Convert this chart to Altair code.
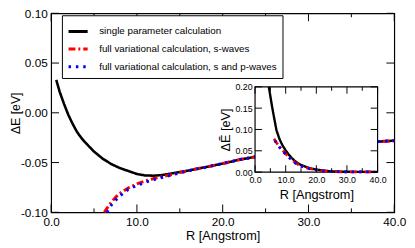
import altair as alt
import pandas as pd

SERIES = ["single parameter calculation",
          "full variational calculation, s-waves",
          "full variational calculation, s and p-waves"]
COLORS = ["#000000", "#ff0000", "#0000ff"]
DASHES = [[1, 0], [7, 3, 2, 3], [2.5, 5]]

# ---------------- main panel data ----------------
R_single = [0.6, 1.0, 1.5, 2.0, 2.5, 3.0, 3.5, 4.0, 5.0, 6.0, 7.0, 8.0, 9.0, 10.0, 11.0,
            12.0, 13.0, 14.0, 15.0, 16.0, 17.0, 18.0, 20.0, 22.0, 24.0, 26.0, 28.0, 30.0,
            32.0, 34.0, 36.0, 38.0, 40.0]
E_single = [0.033, 0.021, 0.009, -0.002, -0.011, -0.019, -0.025, -0.030, -0.039, -0.046,
            -0.0515, -0.0555, -0.0585, -0.0615, -0.063, -0.0632, -0.0625, -0.061, -0.0595,
            -0.058, -0.0562, -0.0546, -0.051, -0.047, -0.044, -0.041, -0.038, -0.036,
            -0.034, -0.032, -0.0305, -0.029, -0.028]

R_s = [6.2, 6.5, 7.0, 7.5, 8.0, 9.0, 10.0, 11.0, 12.0, 13.0, 14.0, 15.0, 16.0, 17.0, 18.0,
       20.0, 22.0, 24.0, 26.0, 28.0, 30.0, 32.0, 34.0, 36.0, 38.0, 40.0]
E_s = [-0.100, -0.096, -0.090, -0.085, -0.081, -0.0755, -0.0715, -0.0685, -0.066, -0.064,
       -0.0622, -0.0600, -0.0582, -0.0563, -0.0547, -0.051, -0.047, -0.044, -0.041, -0.038,
       -0.036, -0.034, -0.032, -0.0305, -0.029, -0.028]

R_sp = [6.5, 7.0, 7.5, 8.0, 9.0, 10.0, 11.0, 12.0, 13.0, 14.0, 15.0, 16.0, 17.0, 18.0,
        20.0, 22.0, 24.0, 26.0, 28.0, 30.0, 32.0, 34.0, 36.0, 38.0, 40.0]
E_sp = [-0.100, -0.093, -0.088, -0.0835, -0.077, -0.073, -0.0697, -0.067, -0.0648, -0.0627,
        -0.0603, -0.0584, -0.0564, -0.0548, -0.051, -0.047, -0.044, -0.041, -0.038, -0.036,
        -0.034, -0.032, -0.0305, -0.029, -0.028]

# ---------------- inset data ----------------
Ri_single = [4.5, 5.0, 5.5, 6.0, 7.0, 8.0, 9.0, 10.0, 11.0, 12.0, 13.0, 14.0, 15.0, 16.0,
             18.0, 20.0, 22.0, 24.0, 26.0, 28.0, 30.0, 35.0, 40.0]
Ei_single = [0.200, 0.178, 0.156, 0.136, 0.098, 0.077, 0.062, 0.051, 0.041, 0.033, 0.026,
             0.021, 0.017, 0.014, 0.009, 0.006, 0.004, 0.0025, 0.0015, 0.001, 0.0008,
             0.0005, 0.0004]

Ri_s = [6.2, 7.0, 8.0, 9.0, 10.0, 11.0, 12.0, 13.0, 14.0, 15.0, 16.0, 18.0, 20.0, 22.0,
        24.0, 26.0, 28.0, 30.0, 34.0, 39.0]
Ei_s = [0.078, 0.069, 0.059, 0.051, 0.043, 0.036, 0.029, 0.023, 0.018, 0.015, 0.012, 0.008,
        0.005, 0.003, 0.002, 0.0012, 0.0008, 0.0006, 0.0004, 0.0003]

Ri_sp = [6.5, 7.0, 8.0, 9.0, 10.0, 11.0, 12.0, 13.0, 14.0, 15.0, 16.0, 18.0, 20.0, 22.0,
         24.0, 26.0, 28.0, 30.0, 34.0, 39.0]
Ei_sp = [0.074, 0.067, 0.058, 0.049, 0.042, 0.035, 0.028, 0.022, 0.0175, 0.014, 0.0115,
         0.0075, 0.005, 0.003, 0.002, 0.0012, 0.0008, 0.0006, 0.0004, 0.0003]

X_MAJOR = [0, 10, 20, 30, 40]
X_MINOR = [5, 15, 25, 35]
Y_MAIN = [-0.10, -0.05, 0.00, 0.05, 0.10]
Y_INSET = [0.00, 0.05, 0.10, 0.15, 0.20]

# ---------------- layout ----------------
W, H = 350, 203
INSET_X = [208, 333]
INSET_Y = [162, 75]
FONT = "Liberation Sans"


def sx_main():
    return alt.Scale(domain=[0, 40], nice=False, zero=False)


def sy_main():
    return alt.Scale(domain=[-0.1, 0.1], nice=False, zero=False)


def sx_in():
    return alt.Scale(domain=[0, 40], range=INSET_X, nice=False, zero=False)


def sy_in():
    return alt.Scale(domain=[0, 0.2], range=INSET_Y, nice=False, zero=False)


LBL_X = "replace(format(datum.value, '.1f'), '\u2212', '-')"
LBL_Y = "replace(format(datum.value, '.2f'), '\u2212', '-')"

common_axis = dict(ticks=False, tickSize=0, domain=False, grid=False, labelColor="black",
                   titleColor="black", titleFontWeight="normal", labelFlush=False,
                   labelOverlap=False, labelFont=FONT, titleFont=FONT)

main_xaxis = alt.Axis(values=X_MAJOR, labelExpr=LBL_X, labelFontSize=12, labelPadding=4,
                      title="R [Angstrom]", titleFontSize=13, titlePadding=3,
                      orient="bottom", **common_axis)
main_yaxis = alt.Axis(values=Y_MAIN, labelExpr=LBL_Y, labelFontSize=12, labelPadding=4,
                      title="ΔE [eV]", titleFontSize=12.5, titlePadding=-2,
                      orient="left", **common_axis)
in_xaxis = alt.Axis(values=X_MAJOR, labelExpr=LBL_X, labelFontSize=9, labelPadding=4,
                    title="R [Angstrom]", titleFontSize=13, titlePadding=4,
                    orient="bottom", offset=INSET_Y[0] - H, **common_axis)
in_yaxis = alt.Axis(values=Y_INSET, labelExpr=LBL_Y, labelFontSize=9, labelPadding=3,
                    title="ΔẼ [eV]", titleFontSize=13, titlePadding=3,
                    orient="left", offset=-INSET_X[0], **common_axis)

color_enc = alt.Color("series:N", scale=alt.Scale(domain=SERIES, range=COLORS),
                      legend=alt.Legend(title=None))
dash_enc = alt.StrokeDash("series:N", scale=alt.Scale(domain=SERIES, range=DASHES),
                          legend=alt.Legend(title=None))


def curve(R, E, k, sx, sy, width, xaxis=None, yaxis=None):
    df = pd.DataFrame({"R": R, "E": E, "series": [SERIES[k]] * len(R)})
    return alt.Chart(df).mark_line(strokeWidth=width, strokeCap="butt", strokeJoin="round").encode(
        x=alt.X("R:Q", scale=sx, axis=xaxis),
        y=alt.Y("E:Q", scale=sy, axis=yaxis),
        color=color_enc,
        strokeDash=dash_enc,
    )


def xticks(vals, sx, sy, at, length):
    df = pd.DataFrame({"v": vals})
    return alt.Chart(df).mark_rule(color="black", strokeWidth=1, y2Offset=length).encode(
        x=alt.X("v:Q", scale=sx, axis=None),
        y=alt.Y(datum=at, scale=sy, axis=None),
        y2=alt.Y2(datum=at),
    )


def yticks(vals, sx, sy, at, length):
    df = pd.DataFrame({"v": vals})
    return alt.Chart(df).mark_rule(color="black", strokeWidth=1, x2Offset=length).encode(
        y=alt.Y("v:Q", scale=sy, axis=None),
        x=alt.X(datum=at, scale=sx, axis=None),
        x2=alt.X2(datum=at),
    )


layers = [
    curve(R_single, E_single, 0, sx_main(), sy_main(), 2.6, main_xaxis, main_yaxis),
    curve(R_s, E_s, 1, sx_main(), sy_main(), 3),
    curve(R_sp, E_sp, 2, sx_main(), sy_main(), 3),
    xticks(X_MAJOR, sx_main(), sy_main(), -0.1, -8),
    xticks(X_MINOR, sx_main(), sy_main(), -0.1, -4),
    xticks(X_MAJOR, sx_main(), sy_main(), 0.1, 8),
    xticks(X_MINOR, sx_main(), sy_main(), 0.1, 4),
    yticks(Y_MAIN, sx_main(), sy_main(), 0, 8),
    yticks(Y_MAIN, sx_main(), sy_main(), 40, -8),
]

# inset background and frame
inset_box = alt.Chart(pd.DataFrame({"a": [0]})).mark_rect(
    fill="white", stroke="black", strokeWidth=1.2).encode(
    x=alt.X(datum=0, scale=sx_in(), axis=None),
    x2=alt.X2(datum=40),
    y=alt.Y(datum=0, scale=sy_in(), axis=None),
    y2=alt.Y2(datum=0.2),
)

layers += [
    inset_box,
    curve(Ri_single, Ei_single, 0, sx_in(), sy_in(), 2.4, in_xaxis, in_yaxis),
    curve(Ri_s, Ei_s, 1, sx_in(), sy_in(), 2.8),
    curve(Ri_sp, Ei_sp, 2, sx_in(), sy_in(), 2.8),
    xticks(X_MAJOR, sx_in(), sy_in(), 0, -7),
    xticks(X_MINOR, sx_in(), sy_in(), 0, -4),
    xticks(X_MAJOR, sx_in(), sy_in(), 0.2, 7),
    xticks(X_MINOR, sx_in(), sy_in(), 0.2, 4),
    yticks(Y_INSET, sx_in(), sy_in(), 0, 7),
    yticks(Y_INSET, sx_in(), sy_in(), 40, -7),
]

chart = alt.layer(*layers).resolve_scale(
    x="independent", y="independent"
).properties(
    width=W, height=H,
    padding={"left": 44, "top": 3, "right": 13, "bottom": 34},
    autosize=alt.AutoSizeParams(type="none"),
).configure(
    font=FONT,
).configure_view(
    stroke="black", strokeWidth=1.2,
).configure_legend(
    orient="none", legendX=11, legendY=2, padding=5,
    strokeColor="black", fillColor="white",
    labelFont=FONT, labelFontSize=10, labelColor="black", labelLimit=400,
    symbolType="stroke", symbolSize=380, symbolStrokeWidth=3, labelOffset=10,
    rowPadding=0,
)

chart.save("out.html", embed_options={"renderer": "svg", "actions": False})
